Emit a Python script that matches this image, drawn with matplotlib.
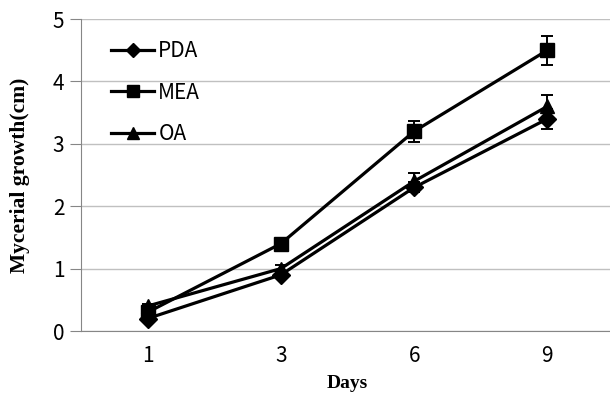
import matplotlib
matplotlib.use("Agg")
import matplotlib.pyplot as plt
from matplotlib.lines import Line2D
import numpy as np

days = ["1", "3", "6", "9"]
series_names = ["PDA", "MEA", "OA"]
pda = [0.2, 0.9, 2.3, 3.4]
mea = [0.3, 1.4, 3.2, 4.5]
oa = [0.4, 1.0, 2.4, 3.6]
pda_err = [0.04, 0.05, 0.08, 0.16]
mea_err = [0.04, 0.05, 0.17, 0.23]
oa_err = [0.04, 0.05, 0.13, 0.18]
yticks = [0, 1, 2, 3, 4, 5]

plt.rcParams['font.family'] = ['Noto Sans CJK KR', 'DejaVu Sans']

fig = plt.figure(figsize=(6.10, 3.94), dpi=100)
ax = fig.add_axes([81/610, (394-331)/394, (614-81)/610, (331-19)/394])

x = np.arange(len(days))
styles = [("D", 9, pda, pda_err), ("s", 10, mea, mea_err), ("^", 10, oa, oa_err)]
handles = []
for name, (m, ms, vals, errs) in zip(series_names, styles):
    ax.errorbar(x, vals, yerr=errs, color="black", lw=2.3, marker=m, ms=ms,
                capsize=4, capthick=1.4, elinewidth=1.4, clip_on=False)
    handles.append(Line2D([], [], color="black", lw=2.3, marker=m, ms=ms - 1.5, label=name))

ax.set_xlim(-0.5, 3.5)
ax.set_ylim(0, 5)
ax.set_xticks(x)
ax.set_xticklabels(days)
ax.set_yticks(yticks)
ax.yaxis.grid(True, color="#c0c0c0", lw=1.0)
ax.set_axisbelow(True)
for s in ["top", "right"]:
    ax.spines[s].set_visible(False)
ax.spines["left"].set_color("#868686")
ax.spines["bottom"].set_color("#868686")
ax.tick_params(axis="y", length=8, color="#868686", labelsize=15, pad=4)
ax.tick_params(axis="x", length=0, labelsize=15, pad=10)

ax.set_xlabel("Days", family="Liberation Serif", fontweight="bold", fontsize=14, labelpad=6)
ax.set_ylabel("Mycerial growth(cm)", family="Liberation Serif", fontweight="bold", fontsize=15.5, labelpad=16)

leg = ax.legend(handles=handles, loc="upper left", bbox_to_anchor=(111/610, (394-40)/394),
                bbox_transform=fig.transFigure,
                frameon=False, fontsize=15, handlelength=2.07, handletextpad=0.2, labelspacing=0.94,
                borderaxespad=0, borderpad=0)

fig.savefig("out.png", dpi=100)
